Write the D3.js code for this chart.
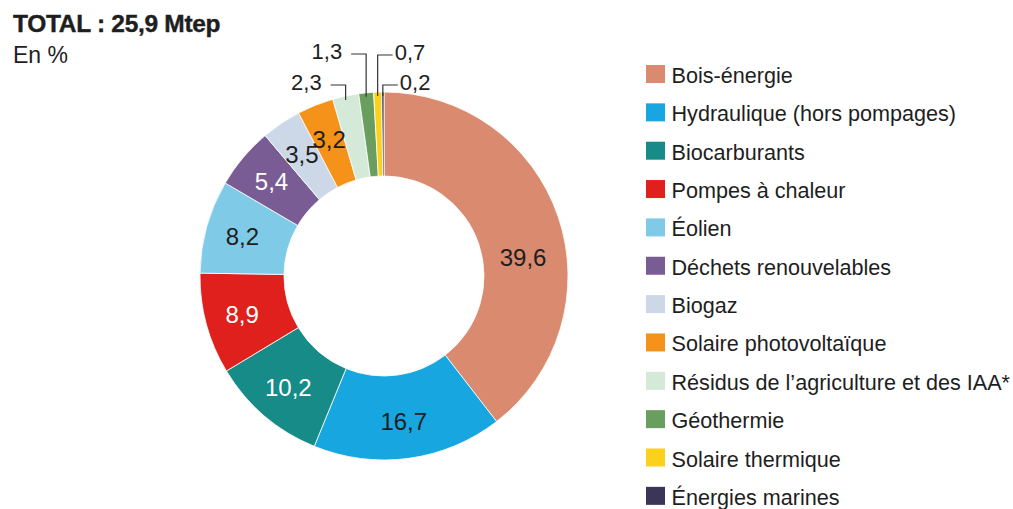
<!DOCTYPE html>
<html>
<head>
  <meta charset="utf-8">
  <title>Renouvelables</title>
  <style type="text/css">
    body {
      margin: 0;
      background-color: #fff;
      font-family: "Liberation Sans", Arial, Helvetica, sans-serif;
    }
    svg { display: block; }
    text { fill: #1e1e1e; }
  </style>
  <script src="https://d3js.org/d3.v7.min.js"></script>
</head>
<body>

<script>
// data (clockwise from 12 o'clock)
var categories = [
  "Bois-énergie",
  "Hydraulique (hors pompages)",
  "Biocarburants",
  "Pompes à chaleur",
  "Éolien",
  "Déchets renouvelables",
  "Biogaz",
  "Solaire photovoltaïque",
  "Résidus de l’agriculture et des IAA*",
  "Géothermie",
  "Solaire thermique",
  "Énergies marines"
];
var values = [39.6, 16.7, 10.2, 8.9, 8.2, 5.4, 3.5, 3.2, 2.3, 1.3, 0.7, 0.2];
var colors = ["#d98a6f", "#17a6df", "#168b88", "#e0201c", "#7ecae7", "#7a5c94",
              "#ccd8e8", "#f4921a", "#d4e9d7", "#6a9e5e", "#fbd11c", "#3b3558"];
var title = "TOTAL : 25,9 Mtep";
var subtitle = "En %";

var width = 1013, height = 509;
var cx = 384, cy = 276, rOuter = 184, rInner = 100;

var svg = d3.select("body").append("svg")
  .attr("width", width)
  .attr("height", height);

svg.append("text")
  .attr("x", 13).attr("y", 32)
  .style("font-size", "24.5px")
  .style("font-weight", "bold")
  .style("letter-spacing", "-0.3px")
  .style("stroke", "#1e1e1e")
  .style("stroke-width", 0.4)
  .text(title);

svg.append("text")
  .attr("x", 13).attr("y", 63)
  .style("font-size", "23px")
  .text(subtitle);

var data = categories.map(function(c, i) {
  return {name: c, value: values[i], color: colors[i]};
});

var pie = d3.pie().sort(null).value(function(d) { return d.value; });
var arc = d3.arc().innerRadius(rInner).outerRadius(rOuter);
var labelArc = d3.arc().innerRadius(147).outerRadius(147);

var chart = svg.append("g")
  .attr("transform", "translate(" + cx + "," + cy + ")");

var arcs = pie(data);

chart.selectAll("path.slice")
  .data(arcs)
  .enter().append("path")
  .attr("class", "slice")
  .attr("d", arc)
  .style("fill", function(d) { return d.data.color; })
  .style("stroke", "#fff")
  .style("stroke-width", 0.8);

function fmt(v) { return String(v).replace(".", ","); }

// white text on dark slices
var whiteText = {"Biocarburants": 1, "Pompes à chaleur": 1, "Déchets renouvelables": 1};
// the big label sits a bit lower than its centroid
var nudgeY = {"Bois-énergie": 29};

chart.selectAll("text.inner")
  .data(arcs.filter(function(d) { return d.data.value >= 3; }))
  .enter().append("text")
  .attr("class", "inner")
  .attr("transform", function(d) {
    var p = labelArc.centroid(d);
    return "translate(" + p[0] + "," + (p[1] + (nudgeY[d.data.name] || 0)) + ")";
  })
  .attr("dy", "0.36em")
  .attr("text-anchor", "middle")
  .style("font-size", "24px")
  .style("fill", function(d) { return whiteText[d.data.name] ? "#fff" : "#1e1e1e"; })
  .text(function(d) { return fmt(d.data.value); });

// callouts for the thin slices at the top
var callout = {
  "Résidus de l’agriculture et des IAA*": {side: -1, rise: 7},
  "Géothermie": {side: -1, rise: 38},
  "Solaire thermique": {side: 1, rise: 37},
  "Énergies marines": {side: 1, rise: 7}
};

var small = arcs.filter(function(d) { return callout[d.data.name]; });

var g = chart.selectAll("g.callout")
  .data(small)
  .enter().append("g")
  .attr("class", "callout");

function anchor(d) {
  var a = (d.startAngle + d.endAngle) / 2;
  return [rOuter * Math.sin(a), -rOuter * Math.cos(a)];
}

g.append("path")
  .attr("d", function(d) {
    var p = anchor(d), c = callout[d.data.name];
    var ey = -rOuter - c.rise;
    return "M" + p[0] + "," + (p[1] + 4) + "V" + ey + "H" + (p[0] + c.side * 15);
  })
  .style("fill", "none")
  .style("stroke", "#333")
  .style("stroke-width", 1.2);

g.append("text")
  .attr("x", function(d) {
    var p = anchor(d), c = callout[d.data.name];
    return p[0] + c.side * (c.side < 0 ? 24 : 17);
  })
  .attr("y", function(d) { return -rOuter - callout[d.data.name].rise + 5; })
  .attr("text-anchor", function(d) { return callout[d.data.name].side < 0 ? "end" : "start"; })
  .style("font-size", "22px")
  .text(function(d) { return fmt(d.data.value); });

// legend
var legend = svg.append("g")
  .attr("transform", "translate(646,83)");

var rows = legend.selectAll("g")
  .data(data)
  .enter().append("g")
  .attr("transform", function(d, i) { return "translate(0," + (i * 38.35) + ")"; });

rows.append("rect")
  .attr("x", 0).attr("y", -18)
  .attr("width", 19).attr("height", 18)
  .style("fill", function(d) { return d.color; });

rows.append("text")
  .attr("x", 25.5).attr("y", 0)
  .style("font-size", "21.6px")
  .text(function(d) { return d.name; });
</script>

</body>
</html>
